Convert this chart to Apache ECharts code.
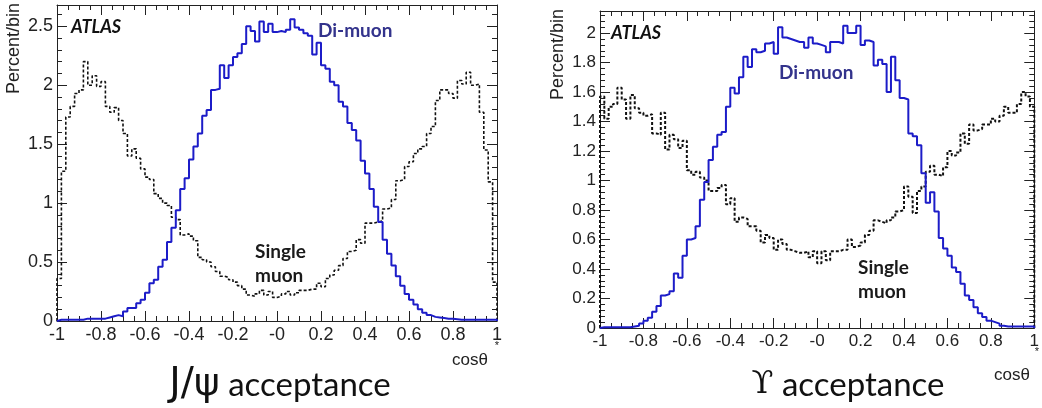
<!DOCTYPE html>
<html><head><meta charset="utf-8">
<script src="https://cdn.jsdelivr.net/npm/echarts@6/dist/echarts.min.js"></script>
<style>html,body{margin:0;padding:0;background:#fff}#c{width:1042px;height:408px}</style>
</head><body><div id="c"></div>
<script>
// ---- data (percent per bin, 100 bins of width 0.02 from -1 to 1) ----
const binLow = -1, binWidth = 0.02;
const xTickLabels = ['-1','-0.8','-0.6','-0.4','-0.2','-0','0.2','0.4','0.6','0.8','1'];

const jpsiDiMuon = [
 0.01,0.01,0.01,0.01,0.01,0.01,0.02,0.02,0.02,0.02,
 0.02,0.03,0.04,0.05,0.04,0.08,0.11,0.11,0.15,0.18,
 0.24,0.32,0.35,0.46,0.52,0.67,0.79,0.94,1.12,1.21,
 1.37,1.48,1.59,1.74,1.79,1.96,1.97,2.17,2.06,2.17,
 2.24,2.27,2.35,2.50,2.46,2.37,2.54,2.45,2.52,2.45,
 2.46,2.45,2.47,2.56,2.49,2.47,2.44,2.42,2.26,2.36,
 2.17,2.14,2.03,2.00,1.86,1.82,1.68,1.62,1.53,1.36,
 1.25,1.12,0.97,0.84,0.69,0.57,0.47,0.38,0.30,0.23,
 0.18,0.14,0.10,0.07,0.05,0.035,0.03,0.025,0.02,0.02,
 0.015,0.01,0.01,0.01,0.01,0.01,0.01,0.01,0.01,0.01
];
const jpsiSingleMuon = [
 0.36,1.27,1.73,1.82,1.93,1.96,2.20,2.00,2.08,1.99,
 2.03,1.82,1.77,1.81,1.70,1.59,1.40,1.46,1.38,1.29,
 1.22,1.20,1.08,1.04,1.00,0.98,0.88,0.86,0.73,0.74,
 0.72,0.68,0.54,0.52,0.50,0.46,0.42,0.38,0.37,0.35,
 0.33,0.30,0.27,0.22,0.21,0.23,0.26,0.22,0.25,0.20,
 0.21,0.23,0.25,0.22,0.24,0.26,0.26,0.27,0.27,0.32,
 0.29,0.36,0.39,0.43,0.47,0.53,0.59,0.60,0.69,0.66,
 0.83,0.83,0.84,0.85,0.95,0.96,1.03,1.19,1.20,1.31,
 1.35,1.42,1.46,1.48,1.59,1.65,1.87,1.96,1.96,1.93,
 1.89,2.04,2.01,2.11,2.00,2.01,1.77,1.45,1.18,0.33
];
const upsDiMuon = [
 0.005,0.005,0.005,0.005,0.005,0.005,0.005,0.01,0.015,0.03,
 0.05,0.07,0.11,0.15,0.22,0.23,0.25,0.37,0.34,0.49,
 0.60,0.61,0.69,0.87,0.99,1.14,1.23,1.31,1.33,1.50,
 1.63,1.59,1.70,1.84,1.77,1.89,1.87,1.88,1.93,1.94,
 1.86,2.04,1.97,1.96,1.95,1.94,1.94,1.90,1.97,1.93,
 1.92,1.91,1.87,1.94,1.94,1.93,2.05,2.00,2.00,2.05,
 1.92,1.95,1.94,1.78,1.82,1.79,1.60,1.84,1.68,1.56,
 1.55,1.32,1.30,1.24,1.05,0.85,0.92,0.79,0.61,0.54,
 0.49,0.41,0.38,0.30,0.22,0.19,0.14,0.10,0.075,0.05,
 0.04,0.03,0.015,0.01,0.01,0.01,0.01,0.01,0.01,0.01
];
const upsSingleMuon = [
 1.57,1.42,1.50,1.52,1.63,1.55,1.42,1.58,1.49,1.46,
 1.44,1.45,1.32,1.31,1.46,1.21,1.31,1.28,1.22,1.27,
 1.07,1.04,1.06,1.02,1.00,0.93,0.93,0.95,0.97,0.84,
 0.88,0.72,0.75,0.74,0.69,0.69,0.66,0.58,0.63,0.61,
 0.53,0.60,0.57,0.53,0.52,0.51,0.51,0.52,0.48,0.52,
 0.44,0.52,0.46,0.52,0.52,0.53,0.53,0.60,0.55,0.56,
 0.58,0.63,0.66,0.73,0.72,0.71,0.73,0.75,0.79,0.80,
 0.96,0.89,0.78,0.93,0.96,1.06,1.10,1.04,1.03,1.09,
 1.20,1.17,1.19,1.32,1.25,1.38,1.34,1.35,1.38,1.38,
 1.42,1.40,1.44,1.50,1.46,1.46,1.52,1.60,1.57,1.50
];

function hist(vals){
  const d = [[binLow, 0]];
  vals.forEach((v,k)=>d.push([binLow + k*binWidth, v]));
  const hi = binLow + vals.length*binWidth;
  d.push([hi, vals[vals.length-1]]);
  d.push([hi, 0]);
  return d;
}

const AX = '#222';
const labelFont = 'Liberation Sans';
function xAx(g, fs, pos){
  const top = pos === 'top';
  return {gridIndex:g, type:'value', min:-1, max:1, interval:0.2, position:pos,
    axisLine:{onZero:false, lineStyle:{color:AX,width:1}},
    axisTick:{inside:true,length:10,lineStyle:{color:AX}},
    minorTick:{show:true,splitNumber:4,length:5,lineStyle:{color:AX}},
    splitLine:{show:false}, minorSplitLine:{show:false},
    axisLabel:{show:!top, fontSize:fs, color:AX, margin:5, fontFamily:labelFont,
      formatter:v=>xTickLabels[Math.round((v+1)/0.2)]}};
}
function yAx(g, max, iv, fs, pos){
  const right = pos === 'right';
  return {gridIndex:g, type:'value', min:0, max:max, interval:iv, position:pos,
    axisLine:{show:true,onZero:false,lineStyle:{color:AX,width:1}},
    axisTick:{inside:true,length:10,lineStyle:{color:AX}},
    minorTick:{show:true,splitNumber:5,length:5,lineStyle:{color:AX}},
    splitLine:{show:false}, minorSplitLine:{show:false},
    axisLabel:{show:!right, fontSize:fs, color:AX, margin:4, fontFamily:labelFont, showMaxLabel:false}};
}

const chart = echarts.init(document.getElementById('c'), null, {renderer:'canvas'});
const blue = '#1c1cc8';
chart.setOption({
  animation:false,
  backgroundColor:'#fff',
  grid:[
    {left:57, top:5, width:440, height:316},
    {left:600, top:11, width:440, height:317}
  ],
  xAxis:[xAx(0,18,'bottom'), xAx(0,18,'top'), xAx(1,17,'bottom'), xAx(1,17,'top')],
  yAxis:[yAx(0,2.68,0.5,18,'left'), yAx(0,2.68,0.5,18,'right'), yAx(1,2.15,0.2,17,'left'), yAx(1,2.15,0.2,17,'right')],
  series:[
    {type:'line', xAxisIndex:0, yAxisIndex:0, step:'end', showSymbol:false, data:hist(jpsiSingleMuon),
      lineStyle:{color:'#111', width:1.6, type:[3,2]}},
    {type:'line', xAxisIndex:0, yAxisIndex:0, step:'end', showSymbol:false, data:hist(jpsiDiMuon),
      lineStyle:{color:blue, width:2}},
    {type:'line', xAxisIndex:2, yAxisIndex:2, step:'end', showSymbol:false, data:hist(upsSingleMuon),
      lineStyle:{color:'#111', width:2, type:[3,2]}},
    {type:'line', xAxisIndex:2, yAxisIndex:2, step:'end', showSymbol:false, data:hist(upsDiMuon),
      lineStyle:{color:blue, width:2}}
  ],
  graphic:[
    {type:'text', x:14, y:3, rotation:Math.PI/2, style:{text:'Percent/bin', font:'18px "Liberation Sans"', fill:'#222', align:'right', verticalAlign:'middle'}},
    {type:'text', x:558, y:9, rotation:Math.PI/2, style:{text:'Percent/bin', font:'18px "Liberation Sans"', fill:'#222', align:'right', verticalAlign:'middle'}},
    {type:'text', x:71, y:27, style:{text:'ATLAS', font:'italic bold 18px Lato', fill:'#111', verticalAlign:'middle'}},
    {type:'text', x:611, y:33, style:{text:'ATLAS', font:'italic bold 18px Lato', fill:'#111', verticalAlign:'middle'}},
    {type:'text', x:318, y:31, style:{text:'Di-muon', font:'bold 19px Lato', fill:'#33338c', verticalAlign:'middle'}},
    {type:'text', x:779, y:73, style:{text:'Di-muon', font:'bold 19px Lato', fill:'#33338c', verticalAlign:'middle'}},
    {type:'text', x:255, y:252, style:{text:'Single', font:'bold 19px Lato', fill:'#1a1a1a', verticalAlign:'middle'}},
    {type:'text', x:255, y:276, style:{text:'muon', font:'bold 19px Lato', fill:'#1a1a1a', verticalAlign:'middle'}},
    {type:'text', x:858, y:268, style:{text:'Single', font:'bold 19px Lato', fill:'#1a1a1a', verticalAlign:'middle'}},
    {type:'text', x:858, y:292, style:{text:'muon', font:'bold 19px Lato', fill:'#1a1a1a', verticalAlign:'middle'}},
    {type:'text', x:470, y:360, style:{text:'cosθ', font:'17px "Liberation Sans"', fill:'#222', align:'center', verticalAlign:'middle'}},
    {type:'text', x:497, y:346, style:{text:'*', font:'11px "Liberation Sans"', fill:'#222', align:'center', verticalAlign:'middle'}},
    {type:'text', x:1012, y:375, style:{text:'cosθ', font:'17px "Liberation Sans"', fill:'#222', align:'center', verticalAlign:'middle'}},
    {type:'text', x:1037, y:352, style:{text:'*', font:'11px "Liberation Sans"', fill:'#222', align:'center', verticalAlign:'middle'}},
    {type:'text', x:280, y:385, style:{text:'{j|J/ψ} acceptance', font:'33px Lato', fill:'#111', align:'center', verticalAlign:'middle',
      rich:{j:{font:'39px "DejaVu Sans"', fill:'#111'}}}},
    {type:'text', x:848, y:385, style:{text:'{u|ϒ} acceptance', font:'33px Lato', fill:'#111', align:'center', verticalAlign:'middle',
      rich:{u:{font:'32px "DejaVu Serif"', fill:'#111'}}}}
  ]
});
</script>
</body></html>
